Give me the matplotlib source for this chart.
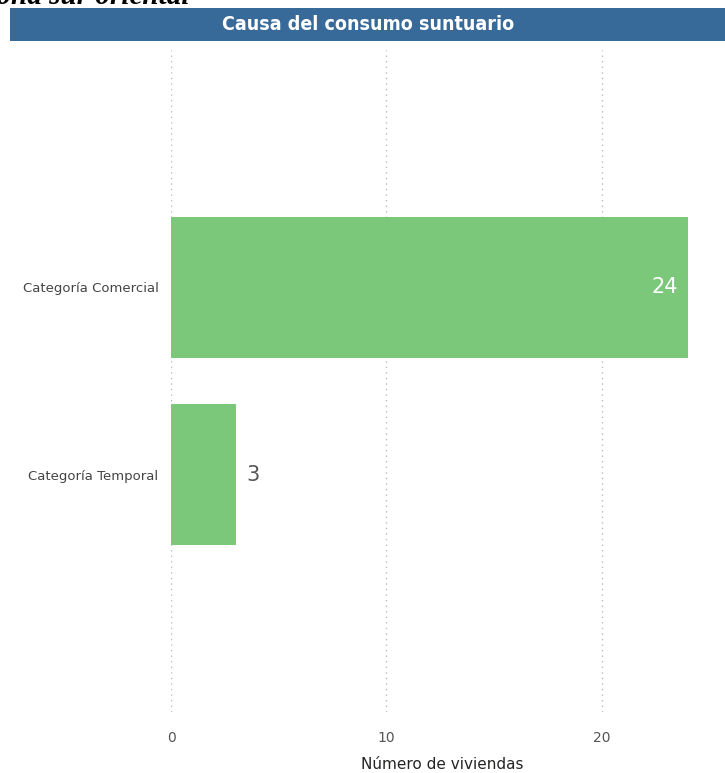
import matplotlib.pyplot as plt
from matplotlib.patches import Rectangle

# data
categories = ['Categoría Comercial', 'Categoría Temporal']
values = [24, 3]
xticks = [0, 10, 20]

bar_color = '#7bc87b'
header_color = '#376a99'

fig = plt.figure(figsize=(7.25, 7.73), dpi=100)
W, H = 725, 773

# leftover heading from the page above, cut by the crop
fig.text(190 / W, 1 + 4 / H, 'zona sur oriental', ha='right', va='center',
         fontsize=21, style='italic', fontweight='bold', family='Liberation Serif',
         color='black')

# title bar
fig.patches.append(Rectangle((10 / W, 1 - 41 / H), 715 / W, 33 / H,
                             transform=fig.transFigure, facecolor=header_color,
                             edgecolor='none', zorder=0))
fig.text(368 / W, 1 - 24 / H, 'Causa del consumo suntuario', ha='center', va='center',
         fontsize=14, fontweight='bold', color='white', family='DejaVu Sans',
         fontstretch='condensed')

ax = fig.add_axes([171 / W, 1 - 712 / H, (714 - 171) / W, (712 - 50) / H])
y = list(range(len(categories)))
ax.barh(y, values, height=0.755, color=bar_color, zorder=2)
ax.set_xlim(0, 25.2)
ax.set_ylim(len(categories) - 1 + 1.27, -1.27)

ax.set_yticks(y)
ax.set_yticklabels(categories, fontsize=9.5, color='#444444')
ax.set_xticks(xticks)
ax.set_xticklabels([str(t) for t in xticks], fontsize=10, color='#555555')
ax.tick_params(axis='y', length=0, pad=9)
ax.tick_params(axis='x', length=0, pad=14)
ax.grid(axis='x', linestyle=(0, (1, 3)), color='#bbbbbb', linewidth=1, zorder=0)
for s in ax.spines.values():
    s.set_visible(False)

ax.set_xlabel('Número de viviendas', fontsize=11, color='#252423', labelpad=8)

for yi, v in zip(y, values):
    if v > 10:
        ax.text(v - 0.45, yi, str(v), ha='right', va='center', fontsize=15, color='white')
    else:
        ax.text(v + 0.5, yi, str(v), ha='left', va='center', fontsize=15, color='#555555')

plt.savefig('out.png', dpi=100)
